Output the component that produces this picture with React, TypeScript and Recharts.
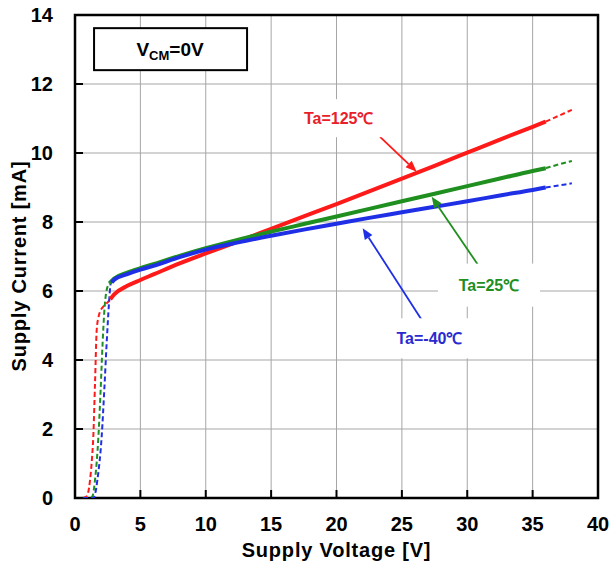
import { LineChart, Line, XAxis, YAxis, CartesianGrid, ReferenceLine, ReferenceDot, ReferenceArea } from "recharts";

// Ta = 125C
const v125Low = [0, 0.5, 0.8, 1.0, 1.15, 1.3, 1.4, 1.53, 1.66, 1.8, 1.91, 2.1, 2.42, 2.7];
const i125Low = [0, 0, 0.02, 0.15, 0.52, 1.15, 1.78, 3.32, 4.87, 5.25, 5.4, 5.52, 5.64, 5.76];
const v125 = [2.7, 3, 4, 5, 6, 8, 10, 12.5, 15, 17.5, 20, 22.5, 25, 27.5, 30, 32.5, 35, 36];
const i125 = [5.76, 5.9, 6.15, 6.32, 6.48, 6.8, 7.09, 7.44, 7.8, 8.16, 8.52, 8.89, 9.26, 9.63, 10.01, 10.39, 10.76, 10.91];
const v125High = [36, 37, 38];
const i125High = [10.91, 11.08, 11.25];

// Ta = 25C
const v25Low = [0, 0.8, 1.15, 1.33, 1.53, 1.79, 1.96, 2.11, 2.24, 2.42, 2.63];
const i25Low = [0, 0, 0, 0.05, 0.52, 1.78, 3.13, 4.48, 5.4, 6.03, 6.22];
const v25 = [2.63, 3, 4, 5, 6, 8, 10, 12.5, 15, 17.5, 20, 22.5, 25, 27.5, 30, 32.5, 35, 36];
const i25 = [6.22, 6.36, 6.53, 6.66, 6.78, 7.02, 7.24, 7.49, 7.72, 7.94, 8.16, 8.38, 8.6, 8.82, 9.04, 9.26, 9.48, 9.56];
const v25High = [36, 37, 38];
const i25High = [9.56, 9.67, 9.77];

// Ta = -40C
const vm40Low = [0, 1.0, 1.4, 1.53, 1.71, 2.04, 2.24, 2.42, 2.6, 2.73, 2.8];
const im40Low = [0, 0, 0, 0.1, 0.52, 1.78, 3.13, 4.48, 5.64, 6.22, 6.25];
const vm40 = [2.8, 3, 4, 5, 6, 8, 10, 12.5, 15, 17.5, 20, 22.5, 25, 27.5, 30, 32.5, 35, 36];
const im40 = [6.25, 6.33, 6.49, 6.62, 6.73, 6.98, 7.2, 7.41, 7.6, 7.78, 7.95, 8.12, 8.28, 8.44, 8.6, 8.77, 8.93, 9.0];
const vm40High = [36, 37, 38];
const im40High = [9.0, 9.06, 9.12];

const xTicks = [0, 5, 10, 15, 20, 25, 30, 35, 40];
const yTicks = [0, 2, 4, 6, 8, 10, 12, 14];

const RED = "#ff1a1a";
const GREEN = "#1f8f1f";
const BLUE = "#1f2fe6";
const FONT = "'Liberation Sans', Arial, sans-serif";

const pts = (v: number[], i: number[]) => v.map((x, k) => ({ v: x, i: i[k] }));

const series = [
    { key: "r-low", data: pts(v125Low, i125Low), color: RED, dashed: true },
    { key: "g-low", data: pts(v25Low, i25Low), color: GREEN, dashed: true },
    { key: "b-low", data: pts(vm40Low, im40Low), color: BLUE, dashed: true },
    { key: "r", data: pts(v125, i125), color: RED, dashed: false },
    { key: "g", data: pts(v25, i25), color: GREEN, dashed: false },
    { key: "b", data: pts(vm40, im40), color: BLUE, dashed: false },
    { key: "r-high", data: pts(v125High, i125High), color: RED, dashed: true },
    { key: "g-high", data: pts(v25High, i25High), color: GREEN, dashed: true },
    { key: "b-high", data: pts(vm40High, im40High), color: BLUE, dashed: true },
];

const arrows = [
    { color: RED, from: { x: 23.33, y: 10.47 }, to: { x: 26.13, y: 9.46 } },
    { color: GREEN, from: { x: 31.61, y: 6.32 }, to: { x: 27.28, y: 8.73 } },
    { color: BLUE, from: { x: 26.52, y: 5.16 }, to: { x: 22.0, y: 7.82 } },
];

const labels = [
    { text: "Ta=125℃", color: "#e8202a", x: 20.17, y: 11.01, w: 90, h: 38 },
    { text: "Ta=25℃", color: "#1f8f1f", x: 31.66, y: 6.17, w: 102, h: 43 },
    { text: "Ta=-40℃", color: "#2a2ad0", x: 27.11, y: 4.63, w: 84, h: 40 },
];

const makeArrow = (color: string) => (p: any) => {
    const { x1, y1, x2, y2 } = p;
    const a = Math.atan2(y2 - y1, x2 - x1);
    const len = 11;
    const half = 4.5;
    const bx = x2 - len * Math.cos(a);
    const by = y2 - len * Math.sin(a);
    const nx = -Math.sin(a) * half;
    const ny = Math.cos(a) * half;
    return (
        <g>
            <line x1={x1} y1={y1} x2={bx} y2={by} stroke={color} strokeWidth={1.8} />
            <polygon points={`${x2},${y2} ${bx + nx},${by + ny} ${bx - nx},${by - ny}`} fill={color} />
        </g>
    );
};

const makeLabel = (l: (typeof labels)[number]) => (p: any) => (
    <g>
        <rect x={p.cx - l.w / 2} y={p.cy - l.h / 2} width={l.w} height={l.h} fill="#fff" />
        <text x={p.cx} y={p.cy + 6} textAnchor="middle" fill={l.color} fontSize={16} fontWeight="bold" fontFamily={FONT}>
            {l.text}
        </text>
    </g>
);

const conditionBox = (p: any) => (
    <g>
        <rect x={p.cx - 76} y={p.cy - 21} width={153} height={42} fill="#fff" stroke="#000" strokeWidth={2} />
        <text x={p.cx} y={p.cy + 7} textAnchor="middle" fontSize={19} fontWeight="bold" fontFamily={FONT} fill="#000">
            <tspan>V</tspan>
            <tspan fontSize={13} dy={4}>CM</tspan>
            <tspan dy={-4}>=0V</tspan>
        </text>
    </g>
);

const tickStyle = { fontSize: 20, fontWeight: "bold", fill: "#000", fontFamily: FONT };
const titleStyle = { fontSize: 20, fontWeight: "bold", fill: "#000", fontFamily: FONT, letterSpacing: 0.8 };

export default function App() {
    return (
        <div style={{ position: "absolute", left: 0, top: 0, background: "#fff" }}>
            <LineChart width={610} height={571} margin={{ top: 15, right: 12, left: 15, bottom: 11 }}>
                <CartesianGrid stroke="#a6a6a6" strokeWidth={1} />
                <XAxis
                    type="number"
                    dataKey="v"
                    domain={[0, 40]}
                    ticks={xTicks}
                    allowDataOverflow
                    height={62}
                    axisLine={false}
                    tickSize={-8}
                    tickMargin={27}
                    tickLine={{ stroke: "#000", strokeWidth: 2 }}
                    tick={tickStyle}
                    label={{
                        content: ({ viewBox }: any) => (
                            <text x={viewBox.x + viewBox.width / 2} y={viewBox.y + viewBox.height - 3} textAnchor="middle" style={titleStyle}>
                                Supply Voltage [V]
                            </text>
                        ),
                    }}
                />
                <YAxis
                    type="number"
                    dataKey="i"
                    domain={[0, 14]}
                    ticks={yTicks}
                    allowDataOverflow
                    width={60}
                    axisLine={false}
                    tickSize={-8}
                    tickMargin={30}
                    tickLine={{ stroke: "#000", strokeWidth: 2 }}
                    tick={tickStyle}
                    label={{
                        content: ({ viewBox }: any) => {
                            const x = viewBox.x + 11;
                            const y = 266;
                            return (
                                <text x={x} y={y} transform={`rotate(-90, ${x}, ${y})`} textAnchor="middle" style={titleStyle}>
                                    Supply Current [mA]
                                </text>
                            );
                        },
                    }}
                />
                {series.map((s) => (
                    <Line
                        key={s.key}
                        data={s.data}
                        dataKey="i"
                        type="monotone"
                        stroke={s.color}
                        strokeWidth={s.dashed ? 2 : 4}
                        strokeDasharray={s.dashed ? "5 3" : undefined}
                        dot={false}
                        activeDot={false}
                        isAnimationActive={false}
                    />
                ))}
                {labels.map((l) => (
                    <ReferenceDot key={l.text} x={l.x} y={l.y} r={1} shape={makeLabel(l)} />
                ))}
                {arrows.map((a, k) => (
                    <ReferenceLine key={k} segment={[a.from, a.to]} shape={makeArrow(a.color)} />
                ))}
                <ReferenceDot x={7.27} y={13.01} r={1} shape={conditionBox} />
                <ReferenceArea x1={0} x2={40} y1={0} y2={14} fill="none" stroke="#000" strokeWidth={2.5} fillOpacity={0} />
            </LineChart>
        </div>
    );
}
